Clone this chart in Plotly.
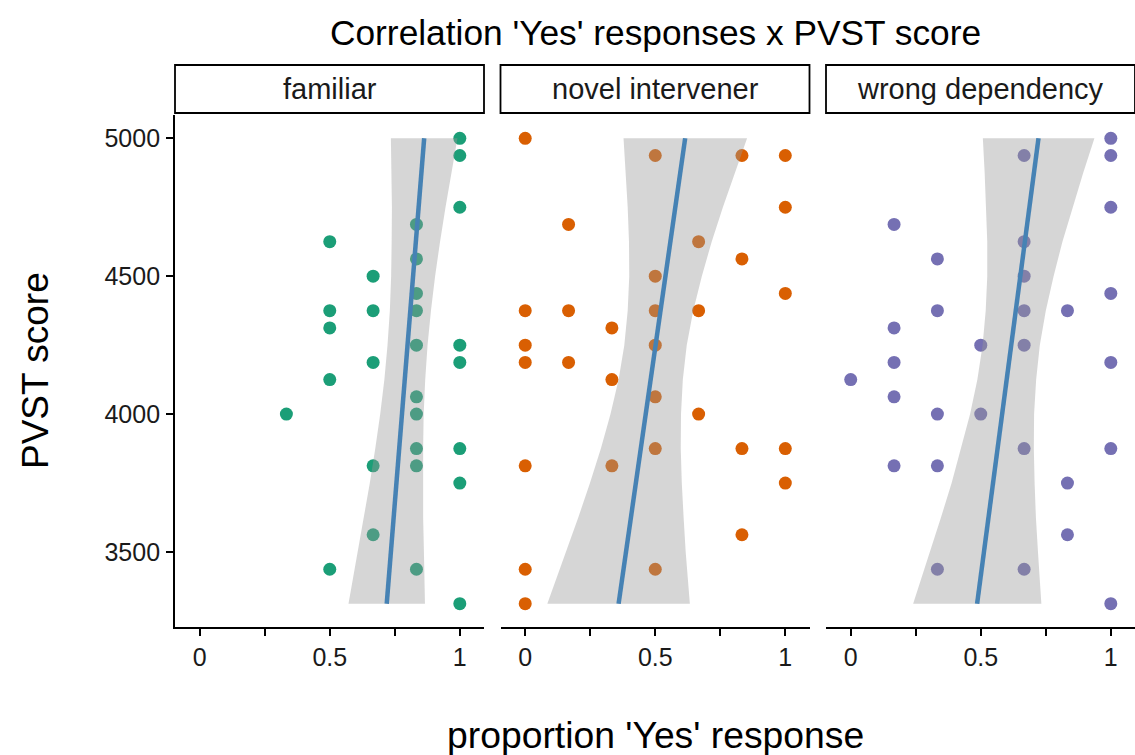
import plotly.graph_objects as go

# ---------------- data ----------------
facets = ["familiar", "novel intervener", "wrong dependency"]
point_colors = ["#1B9E77", "#D95F02", "#7570B3"]

fam_x = [1, 1, 1, 0.8333, 0.5, 0.8333, 0.6667, 0.8333, 0.5, 0.6667, 0.8333, 0.5, 0.8333, 1,
         0.6667, 1, 0.5, 0.8333, 0.3333, 0.8333, 0.8333, 1, 0.6667, 0.8333, 1, 0.6667, 0.5, 0.8333, 1]
fam_y = [5000, 4937.5, 4750, 4687.5, 4625, 4562.5, 4500, 4437.5, 4375, 4375, 4375, 4312.5, 4250, 4250,
         4187.5, 4187.5, 4125, 4062.5, 4000, 4000, 3875, 3875, 3812.5, 3812.5, 3750, 3562.5, 3437.5, 3437.5, 3312.5]

nov_x = [0, 0.5, 0.8333, 1, 1, 0.1667, 0.6667, 0.8333, 0.5, 1, 0, 0.1667, 0.5, 0.6667, 0.3333, 0, 0.5,
         0, 0.1667, 0.3333, 0.5, 0.6667, 0.5, 0.8333, 1, 0, 0.3333, 1, 0.8333, 0, 0.5, 0]
nov_y = [5000, 4937.5, 4937.5, 4937.5, 4750, 4687.5, 4625, 4562.5, 4500, 4437.5, 4375, 4375, 4375, 4375,
         4312.5, 4250, 4250, 4187.5, 4187.5, 4125, 4062.5, 4000, 3875, 3875, 3875, 3812.5, 3812.5, 3750,
         3562.5, 3437.5, 3437.5, 3312.5]

wro_x = [1, 0.6667, 1, 1, 0.1667, 0.6667, 0.3333, 0.6667, 1, 0.3333, 0.6667, 0.8333, 0.1667, 0.5, 0.6667,
         0.1667, 1, 0, 0.1667, 0.3333, 0.5, 0.6667, 1, 0.1667, 0.3333, 0.8333, 0.8333, 0.3333, 0.6667, 1]
wro_y = [5000, 4937.5, 4937.5, 4750, 4687.5, 4625, 4562.5, 4500, 4437.5, 4375, 4375, 4375, 4312.5, 4250,
         4250, 4187.5, 4187.5, 4125, 4062.5, 4000, 4000, 3875, 3875, 3812.5, 3812.5, 3750, 3562.5, 3437.5,
         3437.5, 3312.5]

# confidence band at these PVST levels
band_y = [3312.5, 3500, 3625, 3750, 3875, 4000, 4125, 4250, 4375, 4500, 4625, 4750, 4875, 5000]
fam_lo = [0.572, 0.608, 0.632, 0.654, 0.675, 0.694, 0.710, 0.722, 0.731, 0.736, 0.738, 0.739, 0.737, 0.735]
fam_hi = [0.866, 0.862, 0.859, 0.858, 0.859, 0.861, 0.867, 0.876, 0.889, 0.905, 0.924, 0.945, 0.967, 0.991]
nov_lo = [0.085, 0.157, 0.204, 0.249, 0.291, 0.328, 0.359, 0.381, 0.394, 0.400, 0.399, 0.394, 0.387, 0.378]
nov_hi = [0.633, 0.617, 0.609, 0.602, 0.598, 0.599, 0.606, 0.621, 0.646, 0.679, 0.717, 0.760, 0.805, 0.853]
wro_lo = [0.240, 0.305, 0.347, 0.388, 0.425, 0.459, 0.487, 0.507, 0.519, 0.525, 0.525, 0.521, 0.515, 0.508]
wro_hi = [0.733, 0.720, 0.712, 0.707, 0.704, 0.705, 0.713, 0.727, 0.750, 0.780, 0.814, 0.853, 0.894, 0.937]

# fitted line ends
fit_y = [3312.5, 5000]
fam_fit = [0.719, 0.863]
nov_fit = [0.359, 0.615]
wro_fit = [0.486, 0.722]

x_tickvals = [0, 0.25, 0.5, 0.75, 1]
x_ticktext = ["0", "", "0.5", "", "1"]
y_tickvals = [3500, 4000, 4500, 5000]
y_ticktext = ["3500", "4000", "4500", "5000"]

title_text = "Correlation 'Yes' responses x PVST score"
x_title = "proportion 'Yes' response"
y_title = "PVST score"

# ---------------- figure ----------------
FONT = "Liberation Sans, Arial, Helvetica, sans-serif"
W, H = 1135, 755
L, R, T, B = 175, 0, 115, 128
PW = W - L - R
PH = H - T - B

domains = [[0.0, 309 / PW], [325.5 / PW, 634.5 / PW], [651 / PW, 1.0]]

fig = go.Figure()

series = [
    (fam_x, fam_y, fam_lo, fam_hi, fam_fit),
    (nov_x, nov_y, nov_lo, nov_hi, nov_fit),
    (wro_x, wro_y, wro_lo, wro_hi, wro_fit),
]

for i, (px, py, lo, hi, fit) in enumerate(series):
    xa = "x" if i == 0 else f"x{i + 1}"
    fig.add_trace(go.Scatter(
        x=px, y=py, mode="markers", xaxis=xa, yaxis="y",
        marker=dict(size=13, color=point_colors[i], line=dict(width=0)),
        showlegend=False, hoverinfo="skip"))
    fig.add_trace(go.Scatter(
        x=lo + hi[::-1], y=band_y + band_y[::-1], xaxis=xa, yaxis="y",
        mode="lines", fill="toself", fillcolor="rgba(153,153,153,0.4)",
        line=dict(width=0), showlegend=False, hoverinfo="skip"))
    fig.add_trace(go.Scatter(
        x=fit, y=fit_y, xaxis=xa, yaxis="y", mode="lines",
        line=dict(color="#4682B4", width=4.5), showlegend=False, hoverinfo="skip"))

axis_common = dict(
    range=[-0.095, 1.093], showgrid=False, zeroline=False,
    showline=True, linecolor="black", linewidth=1.8,
    ticks="outside", ticklen=7, tickwidth=1.6, tickcolor="black",
    tickvals=x_tickvals, ticktext=x_ticktext,
    tickfont=dict(family=FONT, size=25, color="#1a1a1a"),
    ticklabelstandoff=0,
)

layout = dict(
    width=W, height=H,
    margin=dict(l=L, r=R, t=T, b=B),
    paper_bgcolor="white", plot_bgcolor="white",
    font=dict(family=FONT, color="black"),
    showlegend=False,
    yaxis=dict(
        range=[3228.1, 5084.4], showgrid=False, zeroline=False,
        showline=True, linecolor="black", linewidth=1.8,
        ticks="outside", ticklen=7, tickwidth=1.6, tickcolor="black",
        tickvals=y_tickvals, ticktext=y_ticktext,
        tickfont=dict(family=FONT, size=25, color="#1a1a1a"),
        anchor="x", ticklabelstandoff=1,
    ),
)
for i in range(3):
    key = "xaxis" if i == 0 else f"xaxis{i + 1}"
    layout[key] = dict(axis_common, domain=domains[i], anchor="y")

fig.update_layout(**layout)

# strips
shapes = []
annotations = []
strip_bottom = (T + PH - 113) / PH
strip_top = (T + PH - 65) / PH
for i, name in enumerate(facets):
    d = domains[i]
    shapes.append(dict(type="rect", xref="paper", yref="paper",
                       x0=d[0], x1=d[1], y0=strip_bottom, y1=strip_top,
                       line=dict(color="black", width=1.8), fillcolor="white", layer="above"))
    annotations.append(dict(text=name, xref="paper", yref="paper",
                            x=(d[0] + d[1]) / 2, y=(strip_bottom + strip_top) / 2,
                            showarrow=False, xanchor="center", yanchor="middle",
                            font=dict(family=FONT, size=29, color="#1a1a1a")))

annotations.append(dict(text=title_text, xref="paper", yref="paper", x=0.5,
                        y=(T + PH - 32) / PH, showarrow=False, xanchor="center", yanchor="middle",
                        font=dict(family=FONT, size=35.3, color="black")))
annotations.append(dict(text=x_title, xref="paper", yref="paper", x=0.5,
                        y=(T + PH - 735) / PH, showarrow=False, xanchor="center", yanchor="middle",
                        font=dict(family=FONT, size=37.3, color="black")))
annotations.append(dict(text=y_title, xref="paper", yref="paper", x=(35 - L) / PW,
                        y=(T + PH - 371) / PH, showarrow=False, xanchor="center", yanchor="middle",
                        textangle=-90, font=dict(family=FONT, size=37, color="black")))

fig.update_layout(shapes=shapes, annotations=annotations)

fig.write_html("out.html")
